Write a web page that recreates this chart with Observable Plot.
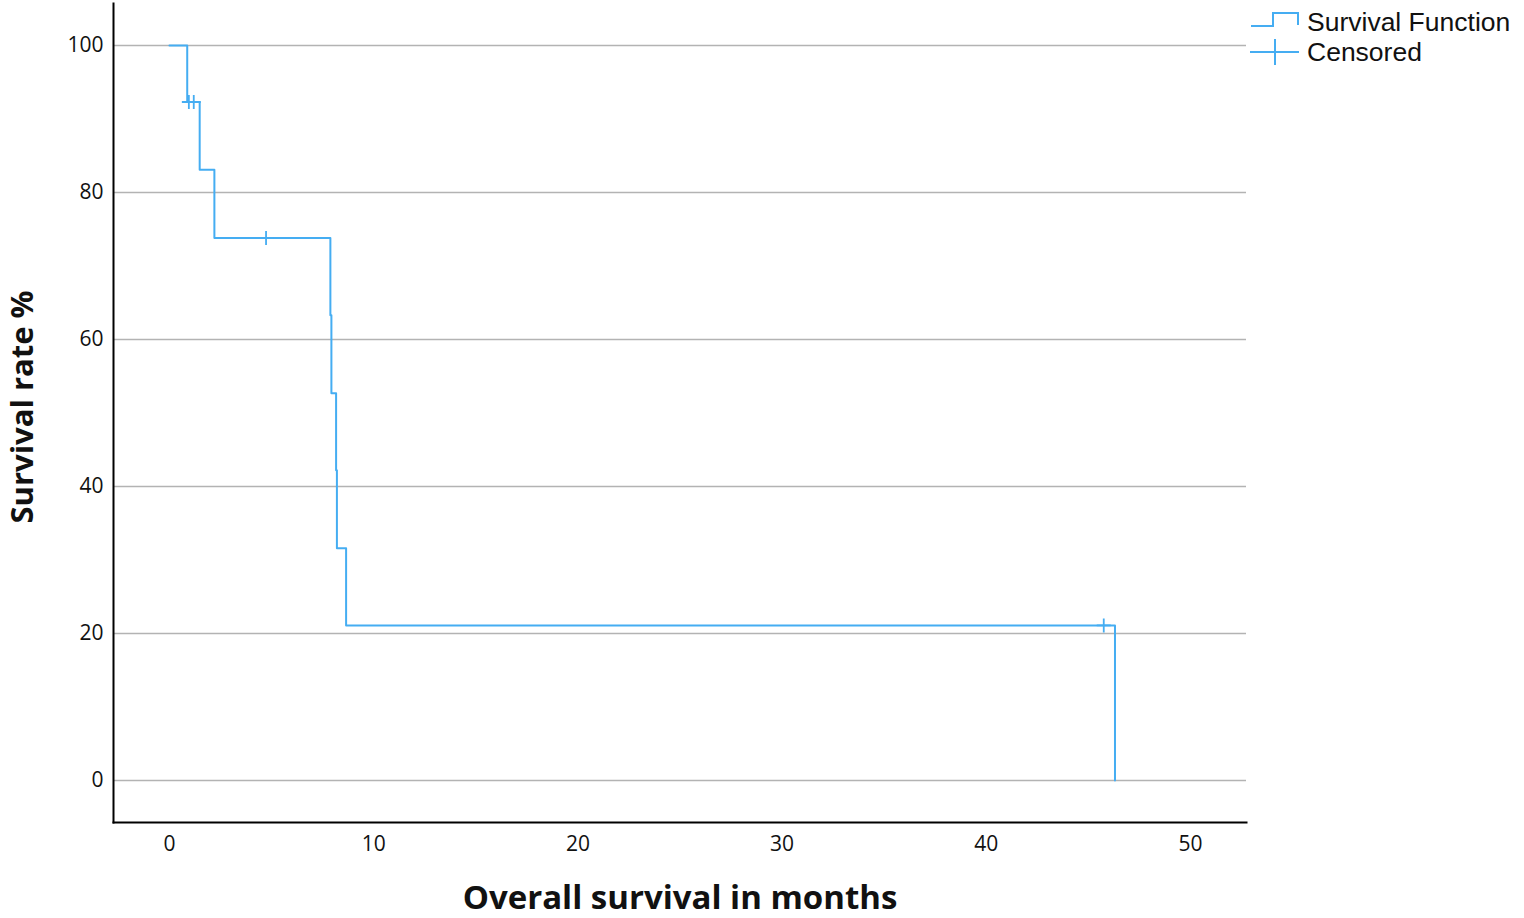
<!DOCTYPE html>
<html>
<head>
<meta charset="utf-8">
<script src="https://cdn.jsdelivr.net/npm/d3@7"></script>
<script src="https://cdn.jsdelivr.net/npm/@observablehq/plot@0.6"></script>
<style>
  html, body { margin: 0; padding: 0; background: #fff; }
  #wrap { position: relative; width: 1524px; height: 918px; }
  #legend { position: absolute; left: 1250px; top: 7px; font-family: "Liberation Sans", Arial, sans-serif; font-size: 26.5px; color: #111; white-space: nowrap; }
  #legend .row { display: flex; align-items: center; height: 30px; }
  #legend .row span { display: block; line-height: 28px; height: 28px; }
  #legend svg { margin-right: 5px; flex: none; }
</style>
</head>
<body>
<div id="wrap">
  <div id="chart"></div>
  <div id="legend">
    <div class="row"><svg width="52" height="30"><path d="M1,19 H23 V6 H48 V18" fill="none" stroke="#45adf2" stroke-width="2"/></svg><span>Survival Function</span></div>
    <div class="row"><svg width="52" height="30"><path d="M0,15 H49 M25,2 V28" fill="none" stroke="#45adf2" stroke-width="2"/></svg><span>Censored</span></div>
  </div>
</div>
<script>
// Kaplan–Meier step points (time in months, survival %)
const stepTimes = [0, 0.87, 1.48, 2.2, 7.88, 7.93, 8.16, 8.2, 8.65, 46.3];
const stepSurvival = [100, 92.3, 83.1, 73.8, 63.3, 52.7, 42.2, 31.6, 21.1, 0];
// Censored observations
const censorTimes = [0.95, 1.19, 4.73, 45.75];
const censorSurvival = [92.3, 92.3, 73.8, 21.1];
const yTicks = [0, 20, 40, 60, 80, 100];
const xTicks = [0, 10, 20, 30, 40, 50];

const steps = stepTimes.map((t, i) => ({t, s: stepSurvival[i]}));
const censored = censorTimes.map((t, i) => ({t, s: censorSurvival[i]}));

const color = "#45adf2";
const plusSymbol = {
  draw(context, size) {
    const r = Math.sqrt(size / Math.PI);
    context.moveTo(-r, 0); context.lineTo(r, 0);
    context.moveTo(0, -r); context.lineTo(0, r);
  }
};

const chart = Plot.plot({
  width: 1524,
  height: 918,
  marginLeft: 113,
  marginRight: 278,
  marginTop: 3,
  marginBottom: 96,
  style: {fontFamily: "Open Sans, sans-serif", background: "#fff"},
  x: {domain: [-2.74, 52.74], ticks: xTicks, tickSize: 0, label: null, tickFormat: d3.format("d")},
  y: {domain: [-5.7, 105.7], ticks: yTicks, tickSize: 0, label: null, tickFormat: d3.format("d")},
  marks: [
    Plot.ruleY(yTicks, {stroke: "#b3b3b3", strokeWidth: 1.5}),
    Plot.axisX({ticks: xTicks, tickSize: 0, tickPadding: 14, fontSize: 21, label: null, fill: "#111"}),
    Plot.axisY({ticks: yTicks, tickSize: 0, tickPadding: 10, fontSize: 21, label: null, fill: "#111"}),
    Plot.frame({anchor: "left", stroke: "#000", strokeWidth: 2}),
    Plot.frame({anchor: "bottom", stroke: "#000", strokeWidth: 2}),
    Plot.line(steps, {x: "t", y: "s", curve: "step-after", stroke: color, strokeWidth: 2}),
    Plot.dot(censored, {x: "t", y: "s", symbol: plusSymbol, r: 7, stroke: color, strokeWidth: 1.8, fill: "none"}),
    Plot.text(["Overall survival in months"], {frameAnchor: "bottom", dy: 76, lineAnchor: "middle", fontSize: 33, fontWeight: "bold", fill: "#111"}),
    Plot.text(["Survival rate %"], {frameAnchor: "left", dx: -90, dy: -6, textAnchor: "middle", lineAnchor: "middle", rotate: -90, fontSize: 31, fontWeight: "bold", fill: "#111"})
  ]
});
document.getElementById("chart").appendChild(chart);
</script>
</body>
</html>
